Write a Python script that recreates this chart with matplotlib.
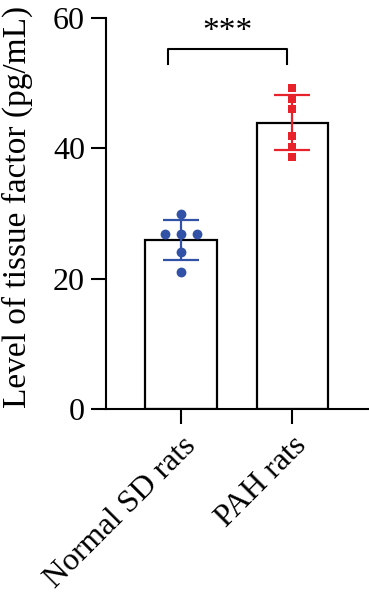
import matplotlib
matplotlib.use("Agg")
import matplotlib.pyplot as plt
import numpy as np

plt.rcParams['font.family'] = ['Liberation Serif', 'DejaVu Serif']

categories = ["Normal SD rats", "PAH rats"]
normal_vals = [30.0, 26.8, 26.8, 26.8, 24.1, 21.1]
normal_offsets = [0.0, -0.145, 0.0, 0.145, 0.0, 0.0]
pah_vals = [49.2, 47.6, 46.1, 41.9, 40.2, 38.7]
yticks = [0, 20, 40, 60]
ylabel = "Level of tissue factor (pg/mL)"
sig_label = "***"

blue = "#3152A6"
red = "#E8222B"

fig = plt.figure(figsize=(3.69, 6.03), dpi=100)
ax = fig.add_axes([0.287, 0.3217, 0.713, 0.6484])

groups = [normal_vals, pah_vals]
means = [np.mean(g) for g in groups]
sds = [np.std(g, ddof=1) for g in groups]
xs = np.arange(len(categories))

ax.bar(xs, means, width=0.64, color="white", edgecolor="black", linewidth=1.6, zorder=1)

# points
ax.scatter(xs[0] + np.array(normal_offsets), normal_vals, s=50, color=blue, marker="o",
           zorder=3, linewidths=0)
ax.scatter(np.full(len(pah_vals), xs[1]), pah_vals, s=34, color=red, marker="s",
           zorder=3, linewidths=0)

# error bars
for x, m, s, c in zip(xs, means, sds, [blue, red]):
    ax.errorbar(x, m, yerr=s, color=c, capsize=13, elinewidth=1.6, capthick=1.6,
                fmt="none", zorder=4)

# significance bracket
bx0, bx1, by, bdrop = -0.12, 0.955, 55.3, 2.3
ax.plot([bx0, bx0, bx1, bx1], [by - bdrop, by, by, by - bdrop], color="black", lw=1.5,
        clip_on=False)
ax.text((bx0 + bx1) / 2, by + 0.3, sig_label, ha="center", va="bottom", fontsize=24)

ax.set_xlim(-0.675, 1.69)
ax.set_ylim(0, 60)
ax.set_yticks(yticks)
ax.set_xticks(xs)
ax.set_xticklabels(categories, rotation=45, ha="right", rotation_mode="anchor", fontsize=23)
ax.tick_params(axis="y", labelsize=23, length=11, width=1.5, pad=4)
ax.tick_params(axis="x", length=11, width=1.5, pad=5)
ax.set_ylabel(ylabel, fontsize=24)
ax.yaxis.set_label_coords(-0.278, 0.517)

for side in ["top", "right"]:
    ax.spines[side].set_visible(False)
for side in ["left", "bottom"]:
    ax.spines[side].set_linewidth(1.5)

fig.savefig("out.png", dpi=100)
